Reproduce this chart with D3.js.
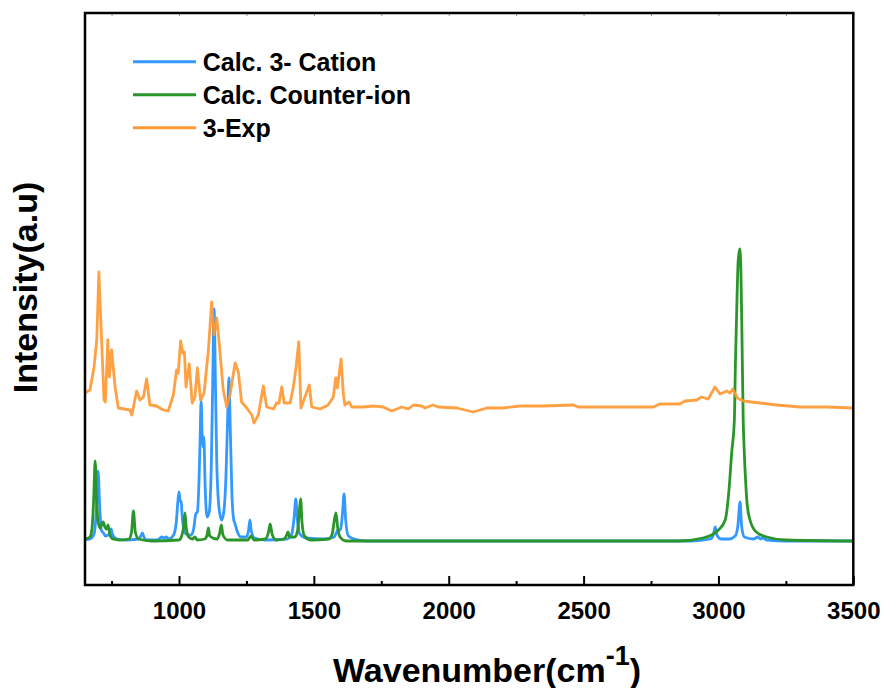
<!DOCTYPE html>
<html>
<head>
<meta charset="utf-8">
<script src="https://cdn.jsdelivr.net/npm/d3@7"></script>
<style>
  body { margin: 0; background: #fff; }
  svg { display: block; }
  text { font-family: Arial, "Liberation Sans", sans-serif; font-weight: bold; fill: #000; }
</style>
</head>
<body>
<svg id="chart" width="885" height="688"></svg>
<script>
// Calculated IR spectrum of the cation: [wavenumber (cm^-1), intensity]
const cationSpectrum = [
  [650,0.02],[670,0.03],[685,0.08],[694,0.35],[700,0.71],[706,0.35],[712,0.12],[720,0.09],[728,0.06],
  [742,0.08],[748,0.13],[754,0.07],[770,0.03],[800,0.02],[850,0.03],[858,0.06],[864,0.09],[870,0.05],
  [880,0.02],[920,0.02],[936,0.05],[944,0.04],[952,0.05],[962,0.03],[980,0.07],[990,0.2],[995,0.38],
  [1000,0.50],[1004,0.42],[1008,0.40],[1013,0.22],[1025,0.08],[1045,0.07],[1055,0.14],[1062,0.28],
  [1068,0.30],[1074,0.6],[1078,1.0],[1082,1.41],[1086,1.05],[1089,0.95],[1092,1.05],[1097,0.55],
  [1104,0.25],[1112,0.3],[1120,0.8],[1125,1.6],[1130,2.33],[1135,1.6],[1140,0.8],[1148,0.35],
  [1158,0.22],[1166,0.3],[1174,0.65],[1180,1.2],[1185,1.64],[1190,1.15],[1196,0.5],[1203,0.22],
  [1207,0.19],[1214,0.12],[1230,0.05],[1250,0.05],[1258,0.12],[1263,0.22],[1268,0.11],[1280,0.04],
  [1320,0.02],[1400,0.03],[1418,0.08],[1427,0.25],[1433,0.43],[1439,0.22],[1448,0.08],[1470,0.04],
  [1540,0.03],[1575,0.05],[1590,0.12],[1598,0.12],[1606,0.28],[1612,0.48],[1618,0.22],[1628,0.06],
  [1660,0.02],[1700,0.01],[2900,0.01],[2970,0.03],[2982,0.08],[2988,0.15],[2994,0.07],[3010,0.03],
  [3040,0.03],[3062,0.06],[3072,0.16],[3080,0.40],[3086,0.16],[3096,0.05],[3130,0.03],[3147,0.05],
  [3155,0.03],[3165,0.04],[3180,0.02],[3250,0.01],[3500,0.01]
];

// Calculated IR spectrum of the counter-ion
const counterIonSpectrum = [
  [650,0.03],[670,0.05],[678,0.15],[684,0.45],[689,0.81],[694,0.45],[700,0.2],[708,0.14],[714,0.18],
  [719,0.20],[725,0.15],[731,0.13],[737,0.17],[743,0.08],[755,0.03],[780,0.02],[815,0.03],[824,0.1],
  [831,0.31],[838,0.1],[850,0.03],[900,0.01],[1000,0.02],[1010,0.06],[1017,0.15],[1022,0.29],
  [1027,0.14],[1036,0.05],[1050,0.03],[1059,0.05],[1068,0.02],[1095,0.03],[1104,0.07],[1109,0.14],
  [1114,0.06],[1140,0.03],[1150,0.08],[1157,0.17],[1163,0.07],[1180,0.02],[1255,0.02],[1267,0.06],
  [1278,0.02],[1320,0.03],[1331,0.09],[1338,0.18],[1345,0.08],[1360,0.02],[1390,0.03],[1399,0.07],
  [1404,0.10],[1410,0.05],[1430,0.05],[1440,0.12],[1446,0.3],[1451,0.43],[1456,0.2],[1465,0.06],
  [1490,0.02],[1555,0.03],[1568,0.08],[1576,0.22],[1582,0.29],[1588,0.15],[1597,0.05],[1620,0.01],
  [2850,0.01],[2943,0.04],[3000,0.12],[3025,0.22],[3040,0.55],[3049,0.89],[3059,1.22],[3063,1.79],
  [3069,2.45],[3073,2.8],[3079,2.93],[3083,2.75],[3087,2.1],[3092,1.2],[3095,0.95],[3102,0.55],
  [3106,0.39],[3117,0.22],[3140,0.1],[3179,0.05],[3250,0.02],[3500,0.01]
];

// Measured spectrum of compound 3 (offset above the calculated traces)
const expSpectrum = [
  [650,1.49],[670,1.52],[685,1.75],[695,2.02],[703,2.70],[713,2.02],[722,1.42],[727,1.40],[736,2.02],
  [742,1.65],[750,1.92],[763,1.55],[775,1.34],[818,1.32],[825,1.27],[843,1.51],[855,1.42],[868,1.45],
  [880,1.63],[892,1.37],[917,1.36],[942,1.32],[960,1.31],[979,1.47],[991,1.72],[997,1.69],[1006,2.01],
  [1014,1.89],[1020,1.90],[1026,1.55],[1038,1.78],[1049,1.39],[1059,1.45],[1068,1.74],[1080,1.42],
  [1093,1.49],[1109,1.92],[1121,2.40],[1130,2.07],[1140,2.24],[1149,1.99],[1164,1.52],[1177,1.35],
  [1189,1.47],[1208,1.79],[1220,1.70],[1232,1.40],[1251,1.34],[1270,1.27],[1278,1.19],[1294,1.27],
  [1307,1.47],[1313,1.56],[1325,1.35],[1350,1.33],[1362,1.39],[1371,1.39],[1381,1.55],[1390,1.39],
  [1412,1.39],[1424,1.55],[1434,1.75],[1444,2.00],[1452,1.34],[1467,1.45],[1483,1.57],[1492,1.35],
  [1523,1.33],[1553,1.37],[1572,1.45],[1581,1.64],[1587,1.54],[1601,1.83],[1609,1.49],[1615,1.37],
  [1631,1.40],[1640,1.35],[1683,1.35],[1720,1.36],[1757,1.35],[1789,1.31],[1826,1.35],[1850,1.33],
  [1869,1.37],[1900,1.36],[1912,1.34],[1941,1.37],[1961,1.35],[2030,1.34],[2091,1.30],[2141,1.34],
  [2202,1.34],[2264,1.36],[2351,1.36],[2462,1.37],[2480,1.35],[2573,1.35],[2672,1.35],[2758,1.35],
  [2783,1.38],[2857,1.38],[2876,1.41],[2919,1.42],[2938,1.45],[2962,1.43],[2987,1.55],[3006,1.48],
  [3031,1.51],[3043,1.49],[3053,1.53],[3070,1.44],[3092,1.41],[3154,1.39],[3216,1.37],[3302,1.35],
  [3401,1.35],[3500,1.34]
];

const majorTicks = [1000, 1500, 2000, 2500, 3000, 3500];
const minorTicks = [750, 1250, 1750, 2250, 2750, 3250];
const legendLabels = ["Calc. 3- Cation", "Calc. Counter-ion", "3-Exp"];
const seriesColors = ["#3399ff", "#2a962a", "#ff9933"];

const svg = d3.select("#chart");
const frame = { left: 85, right: 853.3, top: 13, bottom: 585 };

const x = d3.scaleLinear().domain([650, 3500]).range([84.6, 853.3]);
const y = d3.scaleLinear().domain([-0.43, 5.29]).range([frame.bottom, frame.top]);

const clip = svg.append("defs").append("clipPath").attr("id", "plot-clip")
  .append("rect")
  .attr("x", frame.left).attr("y", frame.top)
  .attr("width", frame.right - frame.left).attr("height", frame.bottom - frame.top);

const plot = svg.append("g").attr("clip-path", "url(#plot-clip)");

const smoothLine = d3.line().x(d => x(d[0])).y(d => y(d[1])).curve(d3.curveMonotoneX);
const rawLine = d3.line().x(d => x(d[0])).y(d => y(d[1]));

const series = [
  { data: cationSpectrum, gen: smoothLine, color: seriesColors[0], opacity: 1 },
  { data: counterIonSpectrum, gen: smoothLine, color: seriesColors[1], opacity: 1 },
  { data: expSpectrum, gen: rawLine, color: seriesColors[2], opacity: 0.92 }
];

series.forEach(s => {
  plot.append("path")
    .attr("d", s.gen(s.data))
    .attr("fill", "none")
    .attr("stroke", s.color)
    .attr("stroke-width", 2.8)
    .attr("stroke-opacity", s.opacity)
    .attr("stroke-linejoin", "round");
});

// Bottom axis: inward major ticks with labels, inward minor ticks
const xAxis = d3.axisBottom(x).tickValues(majorTicks).tickFormat(d3.format("d"))
  .tickSizeInner(-9).tickSizeOuter(0).tickPadding(17);
const gx = svg.append("g").attr("transform", `translate(0,${frame.bottom})`).call(xAxis);
gx.select(".domain").remove();
gx.selectAll(".tick line").attr("stroke", "#000").attr("stroke-width", 2);
gx.selectAll(".tick text").attr("font-size", 24).attr("font-family", "Arial, 'Liberation Sans', sans-serif")
  .attr("font-weight", "bold").attr("fill", "#000");

const xMinor = d3.axisBottom(x).tickValues(minorTicks).tickFormat("").tickSizeInner(-4).tickSizeOuter(0);
const gxm = svg.append("g").attr("transform", `translate(0,${frame.bottom})`).call(xMinor);
gxm.select(".domain").remove();
gxm.selectAll(".tick line").attr("stroke", "#000").attr("stroke-width", 2);

// Faint inward ticks along the top edge
const xTop = d3.axisTop(x).tickValues(majorTicks.concat(minorTicks)).tickFormat("").tickSizeInner(-3).tickSizeOuter(0);
const gxt = svg.append("g").attr("transform", `translate(0,${frame.top})`).call(xTop);
gxt.select(".domain").remove();
gxt.selectAll(".tick line").attr("stroke", "#999").attr("stroke-width", 1);

// Frame
svg.append("rect")
  .attr("x", frame.left).attr("y", frame.top)
  .attr("width", frame.right - frame.left).attr("height", frame.bottom - frame.top)
  .attr("fill", "none").attr("stroke", "#000").attr("stroke-width", 2.5);

// Axis titles
const xTitle = svg.append("text").attr("x", 333).attr("y", 682).attr("font-size", 34);
xTitle.append("tspan").text("Wavenumber(cm");
xTitle.append("tspan").attr("dy", -17).attr("font-size", 27).text("-1");
xTitle.append("tspan").attr("dy", 17).text(")");

svg.append("text")
  .attr("transform", "translate(37,287.5) rotate(-90)")
  .attr("text-anchor", "middle")
  .attr("font-size", 34)
  .text("Intensity(a.u)");

// Legend
const legend = svg.append("g");
legendLabels.forEach((label, i) => {
  const ly = 61.7 + i * 33;
  legend.append("line")
    .attr("x1", 133).attr("x2", 196).attr("y1", ly).attr("y2", ly)
    .attr("stroke", seriesColors[i]).attr("stroke-width", 3);
  legend.append("text")
    .attr("x", 202.7).attr("y", ly + 9)
    .attr("font-size", 25)
    .text(label);
});
</script>
</body>
</html>
